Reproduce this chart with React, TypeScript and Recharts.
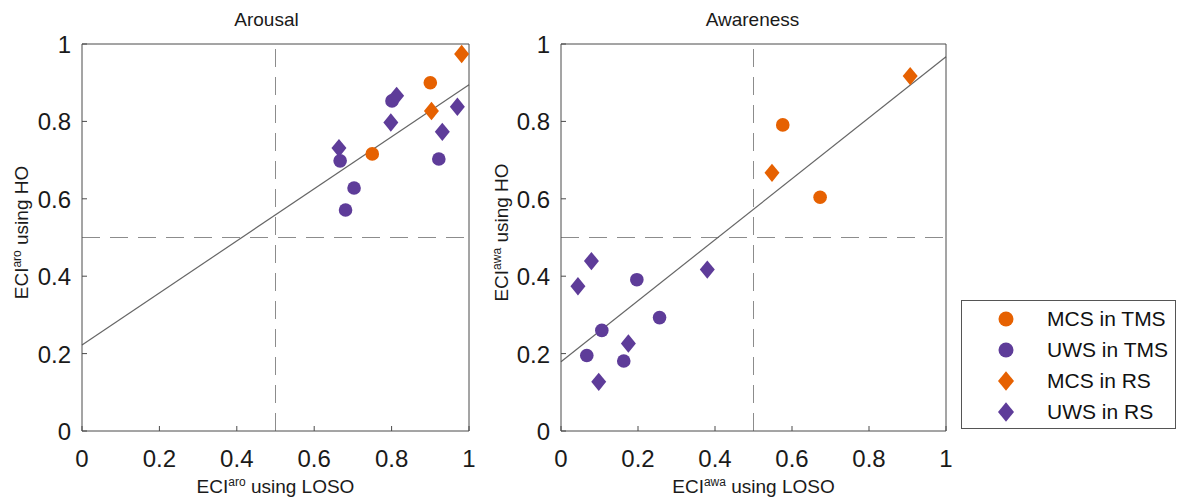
import { ScatterChart, Scatter, XAxis, YAxis, ReferenceLine } from 'recharts'

type Pt = { x: number; y: number }

const TICKS = [0, 0.2, 0.4, 0.6, 0.8, 1]
const TICK_LABELS = ['0', '0.2', '0.4', '0.6', '0.8', '1']

const SERIES = ['MCS in TMS', 'UWS in TMS', 'MCS in RS', 'UWS in RS']
const COLORS = ['#E66101', '#5E3C99', '#E66101', '#5E3C99']
const SHAPES = ['circle', 'circle', 'diamond', 'diamond']

// Arousal panel
const aroMcsTms: Pt[] = [{ x: 0.9, y: 0.9 }, { x: 0.75, y: 0.716 }]
const aroUwsTms: Pt[] = [
  { x: 0.667, y: 0.698 }, { x: 0.681, y: 0.571 }, { x: 0.703, y: 0.628 },
  { x: 0.801, y: 0.853 }, { x: 0.922, y: 0.703 },
]
const aroMcsRs: Pt[] = [{ x: 0.981, y: 0.974 }, { x: 0.903, y: 0.827 }]
const aroUwsRs: Pt[] = [
  { x: 0.664, y: 0.731 }, { x: 0.798, y: 0.797 }, { x: 0.813, y: 0.866 },
  { x: 0.931, y: 0.773 }, { x: 0.97, y: 0.838 },
]
const aroFit: Pt[] = [{ x: 0, y: 0.222 }, { x: 1, y: 0.895 }]

// Awareness panel
const awaMcsTms: Pt[] = [{ x: 0.576, y: 0.791 }, { x: 0.673, y: 0.604 }]
const awaUwsTms: Pt[] = [
  { x: 0.067, y: 0.195 }, { x: 0.106, y: 0.26 }, { x: 0.163, y: 0.181 },
  { x: 0.197, y: 0.391 }, { x: 0.256, y: 0.293 },
]
const awaMcsRs: Pt[] = [{ x: 0.907, y: 0.917 }, { x: 0.548, y: 0.667 }]
const awaUwsRs: Pt[] = [
  { x: 0.044, y: 0.374 }, { x: 0.079, y: 0.439 }, { x: 0.098, y: 0.127 },
  { x: 0.175, y: 0.226 }, { x: 0.38, y: 0.417 },
]
const awaFit: Pt[] = [{ x: 0, y: 0.179 }, { x: 1, y: 0.967 }]

const AXIS = '#4a4a4a'
const TEXT = '#1a1a1a'
const TL = 5
const FONT = '"Liberation Sans", Arial, sans-serif'

const fmt = (v: number) => TICK_LABELS[TICKS.indexOf(v)] ?? String(v)

function BottomTick({ x, y, payload }: any) {
  return (
    <g>
      <line x1={x} y1={y} x2={x} y2={y - TL} stroke={AXIS} />
      <text x={x} y={y + 36} textAnchor="middle" fontSize={24} fill={TEXT} fontFamily={FONT}>{fmt(payload.value)}</text>
    </g>
  )
}
function LeftTick({ x, y, payload }: any) {
  return (
    <g>
      <line x1={x} y1={y} x2={x + TL} y2={y} stroke={AXIS} />
      <text x={x - 11} y={y + 9} textAnchor="end" fontSize={24} fill={TEXT} fontFamily={FONT}>{fmt(payload.value)}</text>
    </g>
  )
}
function TopTick({ x, y }: any) {
  return <line x1={x} y1={y} x2={x} y2={y + TL} stroke={AXIS} />
}
function RightTick({ x, y }: any) {
  return <line x1={x} y1={y} x2={x - TL} y2={y} stroke={AXIS} />
}

function Marker({ kind, cx, cy, color, big }: { kind: string; cx: number; cy: number; color: string; big?: boolean }) {
  if (kind === 'circle') return <circle cx={cx} cy={cy} r={big ? 7.5 : 6.8} fill={color} />
  const w = big ? 8 : 7.5
  const h = big ? 9.8 : 9.2
  return <polygon points={`${cx},${cy - h} ${cx + w},${cy} ${cx},${cy + h} ${cx - w},${cy}`} fill={color} />
}

function SupText({ x, y, sup, rest, rotate }: { x: number; y: number; sup: string; rest: string; rotate?: boolean }) {
  return (
    <text x={x} y={y} textAnchor="middle" fontSize={19} fill={TEXT} fontFamily={FONT}
      transform={rotate ? `rotate(-90, ${x}, ${y})` : undefined}>
      <tspan>ECI</tspan>
      <tspan fontSize={12} dy={-7}>{sup}</tspan>
      <tspan dy={7}>{rest}</tspan>
    </text>
  )
}

interface PanelProps {
  left: number
  width: number
  marginLeft: number
  marginRight: number
  title: string
  titleShift: number
  sup: string
  groups: Pt[][]
  fit: Pt[]
}

function Panel({ left, width, marginLeft, marginRight, title, titleShift, sup, groups, fit }: PanelProps) {
  return (
    <div style={{ position: 'absolute', left, top: 0 }}>
      <ScatterChart width={width} height={499} margin={{ top: 43, right: marginRight - 1, bottom: 18, left: marginLeft }}>
        <XAxis dataKey="x" type="number" domain={[0, 1]} ticks={TICKS} tickSize={0} tickMargin={0}
          height={50} axisLine={{ stroke: AXIS }} tick={<BottomTick />} interval={0}
          label={{
            content: ({ viewBox }: any) => (
              <SupText x={viewBox.x + viewBox.width / 2} y={viewBox.y + 62} sup={sup} rest=" using LOSO" />
            ),
          }} />
        <XAxis xAxisId="top" orientation="top" type="number" domain={[0, 1]} ticks={TICKS} tickSize={0}
          tickMargin={0} height={1} axisLine={{ stroke: AXIS }} tick={<TopTick />} interval={0}
          label={{
            content: ({ viewBox }: any) => (
              <text x={viewBox.x + viewBox.width / 2 + titleShift} y={26} textAnchor="middle" fontSize={19}
                fill={TEXT} fontFamily={FONT}>{title}</text>
            ),
          }} />
        <YAxis dataKey="y" type="number" domain={[0, 1]} ticks={TICKS} tickSize={0} tickMargin={0}
          width={60} axisLine={{ stroke: AXIS }} tick={<LeftTick />} interval={0}
          label={{
            content: ({ viewBox }: any) => (
              <SupText x={28} y={viewBox.y + viewBox.height / 2 - 5} sup={sup} rest=" using HO" rotate />
            ),
          }} />
        <YAxis yAxisId="right" orientation="right" type="number" domain={[0, 1]} ticks={TICKS} tickSize={0}
          tickMargin={0} width={1} axisLine={{ stroke: AXIS }} tick={<RightTick />} interval={0} />
        <ReferenceLine x={0.5} stroke="#8c8c8c" strokeDasharray="18 10" />
        <ReferenceLine y={0.5} stroke="#8c8c8c" strokeDasharray="18 10" />
        <ReferenceLine segment={fit} stroke="#666" strokeWidth={1.2} />
        {groups.map((g, i) => (
          <Scatter key={SERIES[i]} name={SERIES[i]} data={g} isAnimationActive={false}
            shape={(p: any) => <Marker kind={SHAPES[i]} cx={p.cx} cy={p.cy} color={COLORS[i]} />} />
        ))}
      </ScatterChart>
    </div>
  )
}

function LegendBox() {
  return (
    <div style={{ position: 'absolute', left: 961, top: 300, width: 213, height: 127, border: '1px solid #555', background: '#fff' }}>
      <svg width={213} height={127} style={{ display: 'block' }}>
        {SERIES.map((s, i) => (
          <g key={s}>
            <Marker kind={SHAPES[i]} cx={44} cy={18 + 31 * i} color={COLORS[i]} big />
            <text x={85} y={25 + 31 * i} fontSize={21} fill="#111" fontFamily={FONT}>{s}</text>
          </g>
        ))}
      </svg>
    </div>
  )
}

export default function App() {
  return (
    <div style={{ position: 'absolute', left: 0, top: 0, width: 1177, height: 499, background: '#fff', fontFamily: FONT, overflow: 'hidden' }}>
      <Panel left={0} width={480} marginLeft={22} marginRight={11} title="Arousal" titleShift={-9} sup="aro"
        groups={[aroMcsTms, aroUwsTms, aroMcsRs, aroUwsRs]} fit={aroFit} />
      <Panel left={480} width={480} marginLeft={21} marginRight={14} title="Awareness" titleShift={-1} sup="awa"
        groups={[awaMcsTms, awaUwsTms, awaMcsRs, awaUwsRs]} fit={awaFit} />
      <LegendBox />
    </div>
  )
}
